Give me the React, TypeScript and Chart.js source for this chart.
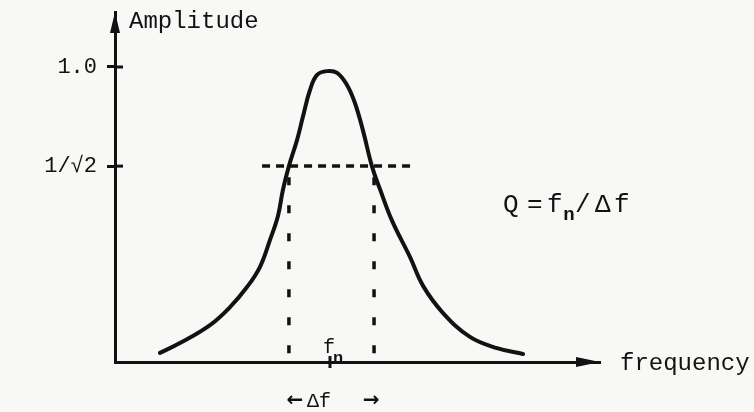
import React, { useEffect, useRef } from 'react';
import { Chart, registerables } from 'chart.js';

Chart.register(...registerables);

// Resonance curve, frequency in units of f_n, amplitude relative to peak (as drawn)
const curveFreq = [0.209, 0.302, 0.442, 0.535, 0.614, 0.674, 0.721, 0.758, 0.781, 0.809, 0.847, 0.874, 0.907, 0.94, 0.986, 1.033, 1.079, 1.116, 1.153, 1.195, 1.233, 1.288, 1.372, 1.433, 1.526, 1.651, 1.777, 1.898];
const curveAmp = [0.031, 0.064, 0.125, 0.186, 0.254, 0.322, 0.414, 0.495, 0.583, 0.664, 0.753, 0.831, 0.922, 0.973, 0.986, 0.98, 0.939, 0.878, 0.786, 0.664, 0.585, 0.48, 0.356, 0.258, 0.166, 0.085, 0.047, 0.027];

// Half-power level (as drawn) and band edges
const halfPowerLevel = 0.664;
const halfPowerSpan = [0.684, 1.381];
const bandEdges = [0.809, 1.205];
const bandFloor = 0.03;
const naturalFreq = 1.0;

// Axis ticks
const yTickValues = [0.664, 1.0];
const yTickLabels = ['1/√2', '1.0'];
const yTitle = 'Amplitude';
const xTitle = 'frequency';
const xMax = 2.256;
const yMax = 1.1864;

export default function App() {
  const ref = useRef<HTMLCanvasElement>(null);

  useEffect(() => {
    const canvas = ref.current!;
    const ink = '#121212';
    const mono = '"Liberation Mono", "DejaVu Sans Mono", monospace';

    const overlay = {
      id: 'overlay',
      beforeDraw(chart: any) {
        const { ctx } = chart;
        ctx.save();
        ctx.fillStyle = '#f8f8f6';
        ctx.fillRect(0, 0, chart.width, chart.height);
        ctx.restore();
      },
      afterDraw(chart: any) {
        const { ctx, scales, chartArea } = chart;
        const xs = scales.x;
        const ys = scales.y;
        const ax = xs.getPixelForValue(0);
        const ay = ys.getPixelForValue(0);
        ctx.save();
        ctx.fillStyle = ink;
        ctx.strokeStyle = ink;

        // y arrow head
        const ty = chartArea.top;
        ctx.beginPath();
        ctx.moveTo(ax, ty);
        ctx.lineTo(ax - 5, ty + 21);
        ctx.lineTo(ax + 5, ty + 21);
        ctx.closePath();
        ctx.fill();

        // x arrow head
        const tx = chartArea.right;
        ctx.beginPath();
        ctx.moveTo(tx, ay);
        ctx.lineTo(tx - 24, ay - 5);
        ctx.lineTo(tx - 24, ay + 5);
        ctx.closePath();
        ctx.fill();

        // inner halves of y tick marks
        ctx.lineWidth = 3;
        yTickValues.forEach((v) => {
          const py = ys.getPixelForValue(v);
          ctx.beginPath();
          ctx.moveTo(ax, py);
          ctx.lineTo(ax + 8, py);
          ctx.stroke();
        });

        // f_n tick
        const fx = xs.getPixelForValue(naturalFreq);
        ctx.beginPath();
        ctx.moveTo(fx, ay - 6);
        ctx.lineTo(fx, ay + 6);
        ctx.stroke();

        // titles
        ctx.textBaseline = 'alphabetic';
        ctx.textAlign = 'left';
        ctx.font = `24px ${mono}`;
        ctx.fillText(yTitle, ax + 14, ty + 16);
        ctx.fillText(xTitle, tx + 20, ay + 8);

        // f_n label above the axis
        ctx.textAlign = 'center';
        ctx.font = `20px ${mono}`;
        ctx.fillText('f', fx - 1, ay - 9);
        ctx.font = `bold 17px ${mono}`;
        ctx.fillText('n', fx + 8, ay + 1);

        // Δf with arrows under the band
        const lx = xs.getPixelForValue(bandEdges[0]);
        const rx = xs.getPixelForValue(bandEdges[1]);
        ctx.font = `20px ${mono}`;
        ctx.fillText('Δf', lx + 30, ay + 45);
        ctx.font = `bold 20px "DejaVu Sans", sans-serif`;
        ctx.fillText('←', lx + 6, ay + 44);
        ctx.fillText('→', rx - 3, ay + 44);

        // Q = f_n / Δf
        const qy = ys.getPixelForValue(halfPowerLevel) + 46;
        const qx = xs.getPixelForValue(halfPowerSpan[1]) + 99;
        ctx.font = `26px ${mono}`;
        ctx.fillText('Q', qx, qy);
        ctx.fillText('=', qx + 24, qy);
        ctx.fillText('f', qx + 44, qy);
        ctx.font = `bold 19px ${mono}`;
        ctx.fillText('n', qx + 58, qy + 8);
        ctx.font = `26px ${mono}`;
        ctx.fillText('/', qx + 72, qy);
        ctx.fillText('Δ', qx + 92, qy);
        ctx.fillText('f', qx + 111, qy);
        ctx.restore();
      },
    };

    const chart = new Chart(canvas, {
      type: 'line',
      data: {
        datasets: [
          {
            data: curveFreq.map((f, i) => ({ x: f, y: curveAmp[i] })),
            borderColor: ink,
            borderWidth: 4,
            tension: 0.4,
            pointRadius: 0,
            borderCapStyle: 'round',
            fill: false,
          },
          {
            data: halfPowerSpan.map((f) => ({ x: f, y: halfPowerLevel })),
            borderColor: ink,
            borderWidth: 3.5,
            borderDash: [8, 6],
            pointRadius: 0,
            fill: false,
          },
          ...bandEdges.map((f) => ({
            data: [
              { x: f, y: bandFloor },
              { x: f, y: halfPowerLevel },
            ],
            borderColor: ink,
            borderWidth: 3.5,
            borderDash: [8, 20],
            pointRadius: 0,
            fill: false,
          })),
        ],
      },
      options: {
        responsive: false,
        animation: false,
        events: [],
        layout: { padding: { top: 12, right: 154, left: 0, bottom: 0 } },
        plugins: { legend: { display: false }, tooltip: { enabled: false } },
        scales: {
          x: {
            type: 'linear',
            min: 0,
            max: xMax,
            ticks: { display: false },
            grid: { display: false },
            border: { display: true, width: 3, color: ink },
            afterFit: (s: any) => {
              s.height = 50;
              s.paddingLeft = 0;
              s.paddingRight = 0;
            },
          },
          y: {
            type: 'linear',
            min: 0,
            max: yMax,
            afterBuildTicks: (s: any) => {
              s.ticks = yTickValues.map((v) => ({ value: v }));
            },
            ticks: {
              autoSkip: false,
              padding: 10,
              color: ink,
              font: { family: mono, size: 22 },
              callback: (_v: any, i: number) => yTickLabels[i],
            },
            grid: {
              display: true,
              drawOnChartArea: false,
              drawTicks: true,
              tickLength: 8,
              lineWidth: 3,
              color: ink,
            },
            border: { display: true, width: 3, color: ink },
            afterFit: (s: any) => {
              s.width = 115;
              s.paddingTop = 0;
              s.paddingBottom = 0;
            },
          },
        },
      },
      plugins: [overlay],
    } as any);

    return () => chart.destroy();
  }, []);

  return (
    <div style={{ position: 'fixed', left: 0, top: 0, width: 754, height: 412, background: '#f8f8f6' }}>
      <canvas ref={ref} width={754} height={412} style={{ display: 'block', width: 754, height: 412 }} />
    </div>
  );
}
